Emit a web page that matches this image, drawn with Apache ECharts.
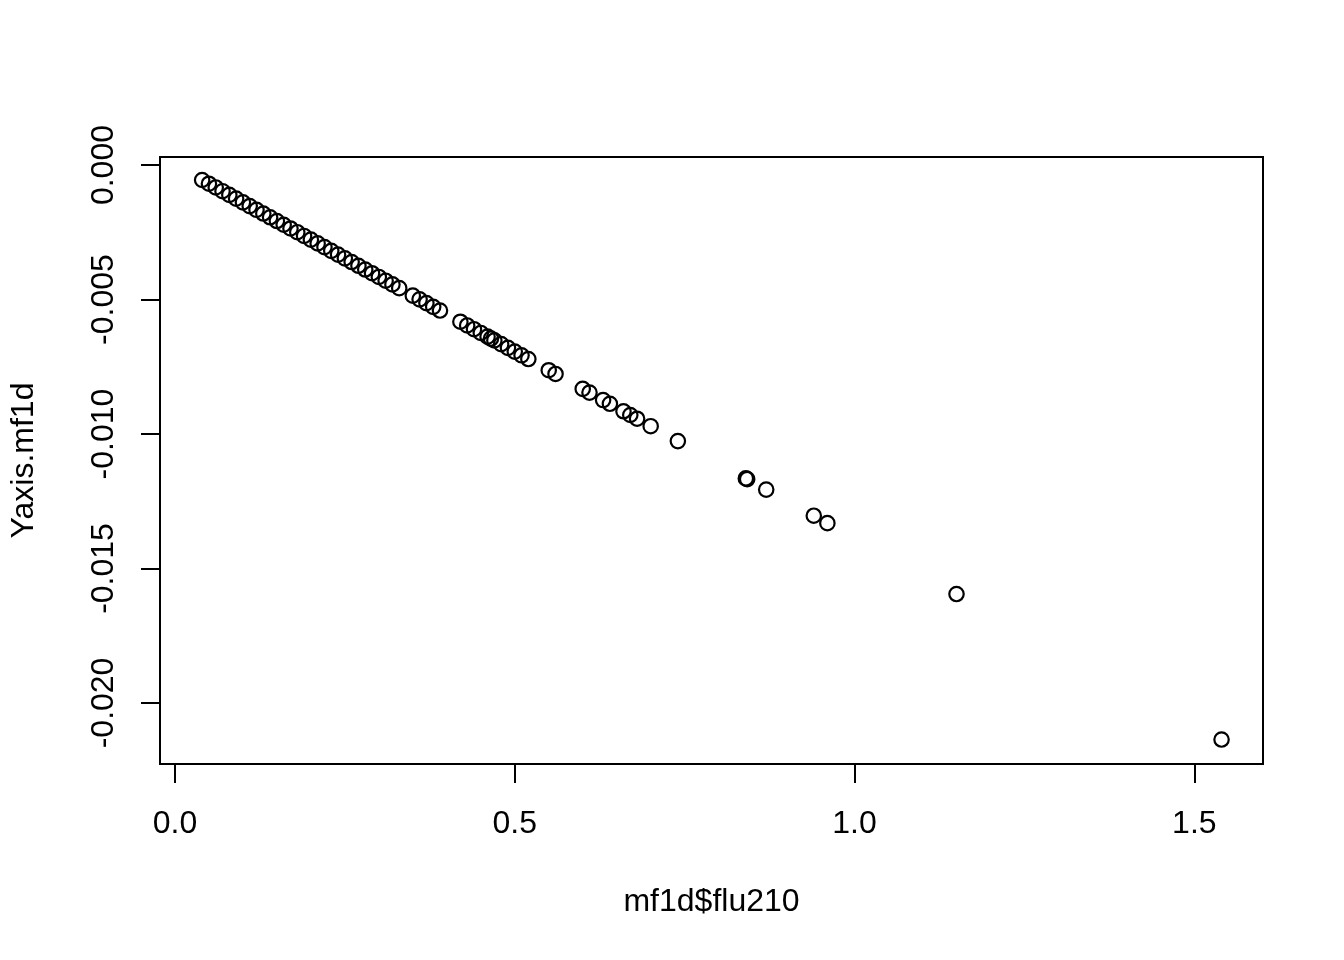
<!DOCTYPE html>
<html>
<head>
<meta charset="utf-8">
<script src="https://cdn.jsdelivr.net/npm/echarts@6/dist/echarts.min.js"></script>
<style>
html,body{margin:0;padding:0;background:#fff;}
#chart{width:1344px;height:960px;}
</style>
</head>
<body>
<div id="chart"></div>
<script>
const xValues = [0.04,0.05,0.06,0.07,0.08,0.09,0.10,0.11,0.12,0.13,0.14,0.15,0.16,0.17,0.18,0.19,0.20,0.21,0.22,0.23,0.24,0.25,0.26,0.27,0.28,0.29,0.30,0.31,0.32,0.33,
  0.35,0.36,0.37,0.38,0.39,
  0.42,0.43,0.44,0.45,0.46,0.465,0.47,0.48,0.49,0.50,0.51,0.52,
  0.55,0.56,0.60,0.61,0.63,0.64,0.66,0.67,0.68,0.70,0.74,0.84,0.842,0.87,0.94,0.96,1.15,1.54];
const yValues = [-0.000555,-0.000694,-0.000832,-0.000971,-0.00111,-0.001248,-0.001387,-0.001526,-0.001664,-0.001803,-0.001942,-0.002081,-0.002219,-0.002358,-0.002497,-0.002635,-0.002774,-0.002913,-0.003051,-0.00319,-0.003329,-0.003468,-0.003606,-0.003745,-0.003884,-0.004022,-0.004161,-0.0043,-0.004438,-0.004577,
  -0.004855,-0.004993,-0.005132,-0.005271,-0.005409,
  -0.005825,-0.005964,-0.006103,-0.006242,-0.00638,-0.00645,-0.006519,-0.006658,-0.006796,-0.006935,-0.007074,-0.007212,
  -0.007629,-0.007767,-0.008322,-0.008461,-0.008738,-0.008877,-0.009154,-0.009293,-0.009432,-0.009709,-0.010264,-0.011651,-0.011679,-0.012067,-0.013038,-0.013315,-0.01595,-0.02136];
const xTicks = [0, 0.5, 1.0, 1.5];
const yTicks = [0, -0.005, -0.010, -0.015, -0.020];
const xTickLabels = ['0.0', '0.5', '1.0', '1.5'];
const yTickLabels = ['0.000', '-0.005', '-0.010', '-0.015', '-0.020'];
const xName = 'mf1d$flu210';
const yName = 'Yaxis.mf1d';

const points = xValues.map((x, i) => [x, yValues[i]]);
const font = "'Liberation Sans', Arial, Helvetica, sans-serif";

const chart = echarts.init(document.getElementById('chart'), null, {renderer: 'canvas'});
chart.setOption({
  animation: false,
  backgroundColor: '#ffffff',
  grid: {
    left: 158, right: 81, top: 157, bottom: 196,
    show: true, borderColor: '#000', borderWidth: 2, backgroundColor: 'transparent'
  },
  xAxis: {
    type: 'value',
    min: -0.022, max: 1.601,
    name: xName,
    nameLocation: 'middle',
    nameGap: 122,
    nameTextStyle: {fontFamily: font, fontSize: 32, color: '#000'},
    axisLine: {show: false, onZero: false},
    splitLine: {show: false},
    axisTick: {show: true, inside: false, length: 19, customValues: xTicks, lineStyle: {color: '#000', width: 2}},
    axisLabel: {
      show: true, margin: 44, fontFamily: font, fontSize: 32, color: '#000',
      customValues: xTicks,
      formatter: v => { const i = xTicks.findIndex(t => Math.abs(t - v) < 1e-9); return i >= 0 ? xTickLabels[i] : ''; }
    }
  },
  yAxis: {
    type: 'value',
    min: -0.02227, max: 0.0003,
    name: yName,
    nameLocation: 'middle',
    nameGap: 120,
    nameTextStyle: {fontFamily: font, fontSize: 32, color: '#000'},
    axisLine: {show: false, onZero: false},
    splitLine: {show: false},
    axisTick: {show: true, inside: false, length: 19, customValues: yTicks, lineStyle: {color: '#000', width: 2}},
    axisLabel: {
      show: true, margin: 40, rotate: 90, fontFamily: font, fontSize: 32, color: '#000',
      customValues: yTicks,
      formatter: v => { const i = yTicks.findIndex(t => Math.abs(t - v) < 1e-9); return i >= 0 ? yTickLabels[i] : ''; }
    }
  },
  series: [{
    type: 'scatter',
    data: points,
    symbol: 'circle',
    symbolSize: 14.4,
    itemStyle: {color: 'rgba(0,0,0,0)', borderColor: '#000', borderWidth: 2.2, opacity: 1},
    emphasis: {disabled: true},
    silent: true
  }]
});
</script>
</body>
</html>
